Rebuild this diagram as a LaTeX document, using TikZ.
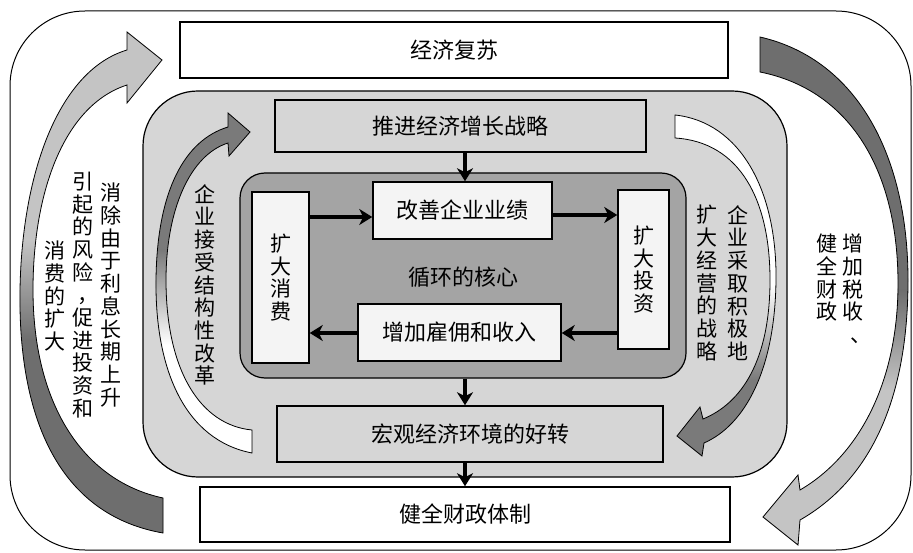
\documentclass[tikz,border=0pt]{standalone}
\usepackage{fontspec}
\newfontfamily\cjk{Noto Sans CJK SC}
\usetikzlibrary{arrows.meta}
\definecolor{bgmid}{HTML}{D6D6D6}
\definecolor{coreg}{HTML}{A4A4A4}
\definecolor{darkg}{HTML}{6E6E6E}
\definecolor{darkh}{HTML}{7A7A7A}
\definecolor{lightg}{HTML}{C4C4C4}
\definecolor{boxw}{HTML}{F4F4F4}
\newcommand\hz{\cjk\fontsize{22}{24}\selectfont}
\newcommand\vz{\cjk\fontsize{21}{22.7}\selectfont}
\newcommand\vcm{\makebox[1em][l]{\hspace{0.22em}\makebox[0.78em][l]{，}}}
\newcommand\vdun{\makebox[1em][l]{\hspace{0.4em}\makebox[0.6em][l]{、}}}
\def\pA{(163,533) .. controls (60,515) and (18,420) .. (20,290) .. controls (22,170) and (60,70) .. (127,50) -- (127,32) -- (162,60) -- (127,103) -- (127,85) .. controls (65,105) and (33,190) .. (33,290) .. controls (33,400) and (80,480) .. (163,498) -- cycle}
\def\pB{(252,453) .. controls (185,440) and (155,370) .. (156,280) .. controls (157,190) and (185,140) .. (228,127) -- (228,113) -- (250,132) -- (229,156) -- (228,143) .. controls (190,155) and (166,210) .. (166,280) .. controls (166,370) and (200,425) .. (252,430) -- cycle}
\def\pC{(675,115) .. controls (740,122) and (777,190) .. (776,280) .. controls (775,370) and (745,425) .. (704,443) -- (702,456) -- (677,436) -- (700,407) -- (703,419) .. controls (742,403) and (770,360) .. (770,280) .. controls (770,200) and (740,142) .. (675,138) -- cycle}
\def\pD{(760,37) .. controls (860,60) and (908,160) .. (908,280) .. controls (908,400) and (870,480) .. (800,520) -- (798,545) -- (763,517) -- (798,475) -- (800,490) .. controls (860,455) and (899,380) .. (898,280) .. controls (897,170) and (850,90) .. (760,72) -- cycle}
\begin{document}
\begin{tikzpicture}[x=1pt,y=-1pt,
  hbox/.style={draw, line width=1.5pt, inner sep=0pt, font=\hz},
  vbox/.style={draw, line width=1.5pt, inner sep=0pt, font=\vz, align=center, fill=boxw},
  vt/.style={inner sep=0pt, font=\vz, align=center},
  conn/.style={line width=3.4pt, -{Stealth[length=13pt,width=16pt,inset=4pt]}},
  bigarrow/.style={draw, line width=0.8pt}]
\useasboundingbox (0,0) rectangle (913,553);

% outer frame
\node[draw, line width=1pt, rounded corners=75pt, minimum width=901pt, minimum height=539pt] (frame) at (460.5,280.5) {};

% outer left arrow
\begin{scope}
  \clip \pA;
  \fill[lightg] (0,0) rectangle (913,553);
  \shade[top color=lightg, bottom color=darkg] (0,240) rectangle (913,340);
  \fill[darkg] (0,340) rectangle (913,553);
\end{scope}
\draw[bigarrow] \pA;

% outer right arrow
\begin{scope}
  \clip \pD;
  \fill[darkg] (0,0) rectangle (913,553);
  \shade[top color=darkg, bottom color=lightg] (0,290) rectangle (913,390);
  \fill[lightg] (0,390) rectangle (913,553);
\end{scope}
\draw[bigarrow] \pD;

% middle region
\node[draw, fill=bgmid, line width=1.2pt, rounded corners=55pt, minimum width=644pt, minimum height=386pt] (mid) at (465,284) {};

% inner left arrow
\begin{scope}
  \clip \pB;
  \fill[darkh] (0,0) rectangle (913,553);
  \shade[top color=darkh, bottom color=white] (0,250) rectangle (913,345);
  \fill[white] (0,345) rectangle (913,553);
\end{scope}
\draw[bigarrow] \pB;

% inner right arrow
\begin{scope}
  \clip \pC;
  \fill[white] (0,0) rectangle (913,553);
  \shade[top color=white, bottom color=darkh] (0,285) rectangle (913,380);
  \fill[darkh] (0,380) rectangle (913,553);
\end{scope}
\draw[bigarrow] \pC;

% core
\node[draw, fill=coreg, line width=1.2pt, rounded corners=25pt, minimum width=446pt, minimum height=205pt] (core) at (463,275.5) {};
\node[font=\hz, inner sep=0pt] (hub) at (463,277) {循环的核心};

% boxes
\node[hbox, fill=white, minimum width=548pt, minimum height=56pt] (top) at (454,50) {经济复苏};
\node[hbox, fill=bgmid, minimum width=371pt, minimum height=52pt] (tui) at (460.5,126) {推进经济增长战略};
\node[hbox, fill=boxw, minimum width=179pt, minimum height=57pt] (gai) at (462.5,210.5) {改善企业业绩};
\node[vbox, minimum width=57pt, minimum height=171pt] (cons) at (280.5,277.5) {扩\\大\\消\\费};
\node[vbox, minimum width=51pt, minimum height=159pt] (inv) at (643.5,269.5) {扩\\大\\投\\资};
\node[hbox, fill=boxw, minimum width=203pt, minimum height=57pt] (zeng) at (459.5,332.5) {增加雇佣和收入};
\node[hbox, fill=bgmid, minimum width=386pt, minimum height=56pt] (hong) at (470,434) {宏观经济环境的好转};
\node[hbox, fill=white, minimum width=530pt, minimum height=55pt] (jian) at (465,514.5) {健全财政体制};

% side texts
\node[vt] (tL1) at (111,295) {消\\除\\由\\于\\利\\息\\长\\期\\上\\升};
\node[vt] (tL2) at (83,295) {引\\起\\的\\风\\险\\\vcm\\促\\进\\投\\资\\和};
\node[vt] (tL3) at (55,296) {消\\费\\的\\扩\\大};
\node[vt] (tIL) at (205,285) {企\\业\\接\\受\\结\\构\\性\\改\\革};
\node[vt] (tIR1) at (738,283) {企\\业\\采\\取\\积\\极\\地};
\node[vt] (tIR2) at (707,283) {扩\\大\\经\\营\\的\\战\\略};
\node[vt] (tOR1) at (853,289) {增\\加\\税\\收\\\vdun};
\node[vt] (tOR2) at (827,278) {健\\全\\财\\政};

% connectors
\coordinate (ax) at (465,0);
\coordinate (r1) at (0,217);
\coordinate (r2) at (0,215);
\coordinate (r3) at (0,333);
\draw[conn] (tui.south -| ax) -- (gai.north -| ax);
\draw[conn] (core.south -| ax) -- (hong.north -| ax);
\draw[conn] (hong.south -| ax) -- (jian.north -| ax);
\draw[conn] (cons.east |- r1) -- (gai.west |- r1);
\draw[conn] (gai.east |- r2) -- (inv.west |- r2);
\draw[conn] (inv.west |- r3) -- (zeng.east |- r3);
\draw[conn] (zeng.west |- r3) -- (cons.east |- r3);
\end{tikzpicture}
\end{document}
